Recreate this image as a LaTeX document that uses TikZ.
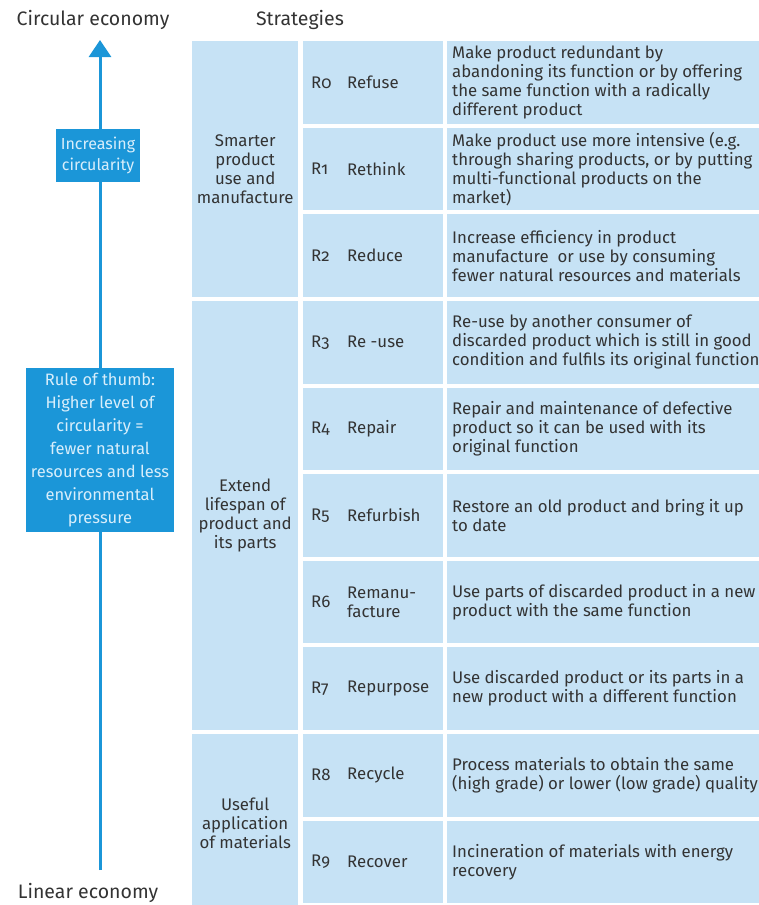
\documentclass[tikz,border=0pt]{standalone}
\usepackage{fontspec}
\setmainfont{Fira Sans}[Numbers=OldStyle]
\usetikzlibrary{arrows.meta}
\definecolor{cellblue}{HTML}{C6E2F5}
\definecolor{boxblue}{HTML}{1B96D8}
\definecolor{boxtext}{HTML}{D8EEFB}
\definecolor{txtgrey}{HTML}{333333}
\tikzset{
  cell/.style={fill=cellblue, draw=none, inner sep=0pt, anchor=north west},
  txt/.style={text=txtgrey, font=\fontsize{16.8}{19}\selectfont, inner sep=0pt},
  head/.style={text=txtgrey, font=\fontsize{19.5}{22}\selectfont, inner sep=0pt},
  bluebox/.style={fill=boxblue, text=boxtext, inner sep=0pt, align=center},
  axisline/.style={draw=boxblue, line width=3pt}
}
\newcommand\srow[4]{%
  \pgfmathsetmacro\ytop{41+86.6*#1}
  \node[cell, minimum width=140pt, minimum height=82.6pt] (c#1) at (303,\ytop) {};
  \node[cell, minimum width=320pt, minimum height=82.6pt] (d#1) at (447,\ytop) {};
  \node[txt, anchor=west] (k#1) at ([xshift=8pt]c#1.west) {#2};
  \node[txt, anchor=west, align=left] (n#1) at ([xshift=44pt]c#1.west) {#3};
  \node[txt, anchor=west, align=left] (t#1) at ([xshift=5pt]d#1.west) {#4};
}
\begin{document}
\begin{tikzpicture}[x=1pt, y=-1pt]
\clip (0,0) rectangle (759,905);
\useasboundingbox (0,0) rectangle (759,905);
% headings
\node[head] (hc) at (93,20) {Circular economy};
\node[head] (hs) at (300,20) {Strategies};
\node[head] (hl) at (88,893) {Linear economy};
% axis
\coordinate (atop) at (100,40);
\coordinate (abot) at (100,870);
\draw[axisline, -{Triangle[width=22pt,length=17pt]}] (abot) -- (atop);
\node[bluebox, minimum width=84pt, minimum height=53pt,
  font=\fontsize{16}{21}\selectfont] (inc) at (98,155.5) {Increasing\\circularity};
\node[bluebox, minimum width=148pt, minimum height=164pt,
  font=\fontsize{16.5}{23}\selectfont] (rule) at (100,450)
  {Rule of thumb:\\Higher level of\\circularity =\\fewer natural\\resources and less\\environmental\\pressure};
% group column
\node[cell, minimum width=106pt, minimum height=255.8pt] (g1) at (192,41) {};
\node[cell, minimum width=106pt, minimum height=429pt] (g2) at (192,300.8) {};
\node[cell, minimum width=106pt, minimum height=175pt] (g3) at (192,733.8) {};
\node[txt, align=center] (g1t) at (g1.center) {Smarter\\product\\use and\\manufacture};
\node[txt, align=center] (g2t) at (g2.center) {Extend\\lifespan of\\product and\\its parts};
\node[txt, align=center] (g3t) at ([yshift=-2pt]g3.center) {Useful\\application\\of materials};
% rows
\srow{0}{R0}{Refuse}{Make product redundant by\\abandoning its function or by offering\\the same function with a radically\\different product}
\srow{1}{R1}{Rethink}{Make product use more intensive (e.g.\\through sharing products, or by putting\\multi-functional products on the\\market)}
\srow{2}{R2}{Reduce}{Increase efficiency in product\\manufacture\ \ or use by consuming\\fewer natural resources and materials}
\srow{3}{R3}{Re -use}{Re-use by another consumer of\\discarded product which is still in good\\condition and fulfils its original function}
\srow{4}{R4}{Repair}{Repair and maintenance of defective\\product so it can be used with its\\original function}
\srow{5}{R5}{Refurbish}{Restore an old product and bring it up\\to date}
\srow{6}{R6}{Remanu-\\facture}{Use parts of discarded product in a new\\product with the same function}
\srow{7}{R7}{Repurpose}{Use discarded product or its parts in a\\new product with a different function}
\srow{8}{R8}{Recycle}{Process materials to obtain the same\\(high grade) or lower (low grade) quality}
\srow{9}{R9}{Recover}{Incineration of materials with energy\\recovery}
\end{tikzpicture}
\end{document}
